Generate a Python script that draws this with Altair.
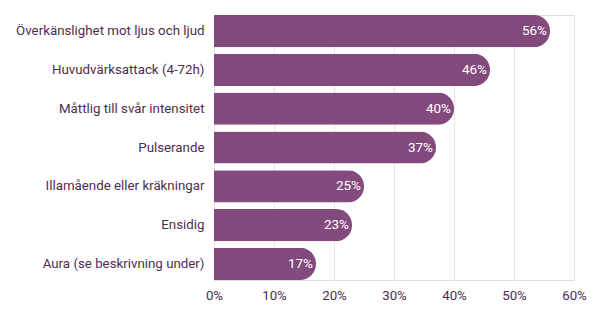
import altair as alt
import pandas as pd

categories = [
    "Överkänslighet mot ljus och ljud",
    "Huvudvärksattack (4-72h)",
    "Måttlig till svår intensitet",
    "Pulserande",
    "Illamående eller kräkningar",
    "Ensidig",
    "Aura (se beskrivning under)",
]
values = [56, 46, 40, 37, 25, 23, 17]
ticks = [0, 10, 20, 30, 40, 50, 60]

df = pd.DataFrame({"cat": categories, "val": values})
df["label"] = df["val"].astype(str) + "%"

FONT = "Roboto"
BAR = "#834A7E"
TXT = "#4D2E4C"

y = alt.Y("cat:N", sort=categories, title=None,
          scale=alt.Scale(paddingInner=0.17, paddingOuter=0),
          axis=alt.Axis(ticks=False, domain=False, labelPadding=10,
                        labelFontSize=13.3, labelColor=TXT, labelFont=FONT,
                        labelLimit=300))
x = alt.X("val:Q", title=None,
          scale=alt.Scale(domain=[0, 60], nice=False),
          axis=alt.Axis(values=ticks, ticks=False, domain=False,
                        labelExpr="datum.value + '%'", labelFontSize=13.3,
                        labelFlush=False,
                        labelColor=TXT, labelFont=FONT, labelPadding=8,
                        gridColor="#E6E6E6", grid=True))

bars = alt.Chart(df).mark_bar(color=BAR, cornerRadiusEnd=16).encode(x=x, y=y)
text = alt.Chart(df).mark_text(align="right", baseline="middle", dx=-3,
                               color="white", fontSize=13.5, font=FONT).encode(
    x="val:Q", y=alt.Y("cat:N", sort=categories), text="label:N")

chart = (bars + text).properties(
    width=360, height=265,
    autosize=alt.AutoSizeParams(type="none"),
    padding={"left": 214, "top": 15, "right": 29, "bottom": 33},
).configure_view(stroke=None).configure(background="white")

chart.save("out.html", embed_options={"renderer": "svg", "actions": False})
